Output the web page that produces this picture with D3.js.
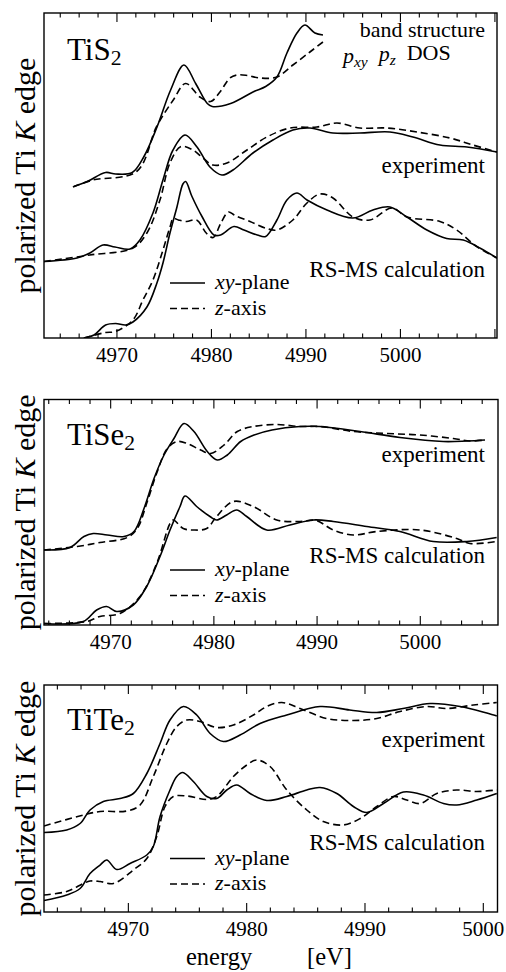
<!DOCTYPE html>
<html><head><meta charset="utf-8">
<script src="https://cdn.jsdelivr.net/npm/d3@7"></script>
<style>
body{margin:0;background:#fff;}
svg{display:block;}
</style>
</head><body>
<svg id="chart" width="506" height="972"></svg>
<script>
// ---------- DATA (energy in eV, intensity in arbitrary units, curves offset) ----------
const tickValues = [4970, 4980, 4990, 5000];
const tickLabels = ["4970", "4980", "4990", "5000"];
const compounds = ["TiS", "TiSe", "TiTe"];
const curveLabels = ["band structure", "experiment", "RS-MS calculation"];
const legendLabels = ["xy-plane", "z-axis"];

// TiS2
const tis2BandXY = [[4965.45,3.03],[4966.86,3.13],[4968.8,3.31],[4969.86,3.28],[4971.62,3.31],[4972.86,3.63],[4974.26,4.23],[4975.68,4.96],[4977.09,5.46],[4978.33,5.09],[4979.56,4.69],[4980.08,4.63],[4982.03,4.69],[4984.5,4.93],[4985.74,5.03],[4986.93,5.22],[4987.99,5.70],[4989.05,6.10],[4989.89,6.26],[4990.95,6.10],[4991.8,6.06]];
const tis2BandZ = [[4965.34,3.02],[4967.46,3.16],[4972.08,3.33],[4974.2,4.23],[4975.96,4.76],[4977.27,5.09],[4978.78,4.82],[4979.92,4.73],[4980.9,4.92],[4981.96,5.2],[4982.7,5.26],[4983.79,5.25],[4985.13,5.2],[4986.93,5.22],[4988.62,5.46],[4990.42,5.72],[4991.8,5.92]];
const tis2ExpXY = [[4962.28,1.53],[4965.77,1.6],[4967.14,1.7],[4968.52,1.86],[4969.79,1.82],[4971.38,1.78],[4972.43,1.96],[4973.81,2.5],[4974.87,3.16],[4975.93,3.76],[4977.2,4.06],[4978.47,3.82],[4979.84,3.42],[4981.11,3.26],[4982.28,3.36],[4984.39,3.7],[4986.51,3.96],[4988.62,4.16],[4990.42,4.2],[4992.86,4.1],[4995.71,4.1],[4998.89,4.12],[5001.32,4.02],[5004.18,3.86],[5007.04,3.82],[5010.21,3.72]];
const tis2ExpZ = [[4962.28,1.53],[4967.14,1.66],[4971.69,1.8],[4973.17,2.1],[4974.55,2.76],[4975.61,3.5],[4976.77,3.83],[4978.04,3.76],[4979.1,3.6],[4980.16,3.46],[4981.64,3.5],[4983.76,3.76],[4985.87,4.02],[4988.31,4.2],[4991.16,4.22],[4993.28,4.3],[4995.71,4.2],[4998.57,4.2],[5001.75,4.12],[5005.24,4.0],[5007.67,3.86],[5010.21,3.72]];
const tis2CalcXY = [[4966.5,0],[4967.57,0.06],[4968.8,0.26],[4969.86,0.29],[4970.92,0.26],[4971.69,0.32],[4973.17,0.62],[4974.23,1.1],[4974.87,1.5],[4975.61,2.1],[4976.35,2.62],[4976.98,3.08],[4977.27,3.13],[4977.94,2.83],[4979.0,2.43],[4980.26,2.06],[4980.97,2.06],[4982.38,2.23],[4983.44,2.16],[4984.85,2.06],[4985.74,2.03],[4986.93,2.36],[4987.99,2.76],[4989.05,2.9],[4990.11,2.76],[4992.22,2.56],[4994.97,2.4],[4997.09,2.56],[4998.89,2.62],[5000.69,2.42],[5002.8,2.16],[5004.89,1.99],[5006.65,1.96],[5008.5,1.79],[5010.21,1.6]];
const tis2CalcZ = [[4966.5,0],[4968.8,0.11],[4969.86,0.13],[4971.69,0.36],[4972.75,0.76],[4973.81,1.16],[4974.87,1.76],[4975.61,2.22],[4975.96,2.39],[4976.5,2.36],[4977.37,2.33],[4978.43,2.36],[4979.49,2.09],[4980.19,2.01],[4981.0,2.3],[4981.8,2.52],[4982.5,2.45],[4984.08,2.33],[4985.84,2.19],[4986.9,2.16],[4988.62,2.36],[4990.11,2.7],[4991.48,2.88],[4992.86,2.8],[4994.97,2.42],[4996.77,2.36],[4999.1,2.6],[5000.69,2.42],[5004.18,2.33],[5005.95,2.16],[5008.06,1.83],[5010.21,1.6]];

// TiSe2
const tise2ExpXY = [[4963.54,1.5],[4966.06,1.55],[4967.41,1.77],[4968.31,1.83],[4969.67,1.8],[4971.29,1.77],[4972.26,1.87],[4973.23,2.33],[4974.2,2.93],[4975.17,3.4],[4976.13,3.73],[4977.1,4.03],[4978.07,3.87],[4979.36,3.47],[4980.33,3.3],[4981.3,3.4],[4982.6,3.67],[4983.89,3.8],[4985.63,3.9],[4988.34,3.97],[4990.28,3.97],[4994.16,3.87],[4998.03,3.75],[5002.23,3.67],[5004.5,3.68],[5006.27,3.7]];
const tise2ExpZ = [[4963.54,1.5],[4966.76,1.57],[4968.96,1.65],[4971.61,1.75],[4972.58,1.93],[4973.55,2.47],[4974.52,3.07],[4975.48,3.53],[4976.45,3.67],[4977.42,3.63],[4978.72,3.5],[4979.69,3.43],[4980.98,3.6],[4982.27,3.87],[4983.82,3.97],[4986.09,4.01],[4988.34,3.97],[4990.28,3.97],[4993.51,3.87],[4996.74,3.83],[4999.97,3.8],[5003.2,3.73],[5004.82,3.68],[5006.27,3.7]];
const tise2CalcXY = [[4963.54,0.03],[4967.34,0.07],[4968.64,0.3],[4969.61,0.37],[4970.58,0.27],[4972.19,0.4],[4973.49,0.77],[4974.78,1.37],[4975.75,1.9],[4976.72,2.37],[4977.2,2.58],[4978.33,2.37],[4979.62,2.17],[4980.27,2.1],[4981.24,2.2],[4982.21,2.3],[4983.18,2.17],[4985.12,1.9],[4987.37,2.0],[4989.63,2.1],[4991.57,2.07],[4994.81,1.97],[4998.03,1.87],[5001.26,1.67],[5004.5,1.67],[5007.4,1.75]];
const tise2CalcZ = [[4963.54,0.03],[4967.67,0.07],[4968.96,0.17],[4970.9,0.23],[4972.84,0.57],[4974.46,1.23],[4975.75,2.03],[4976.07,2.1],[4977.03,1.93],[4978.0,1.9],[4979.3,1.93],[4980.27,2.17],[4981.88,2.47],[4983.82,2.37],[4986.09,2.1],[4988.34,2.07],[4989.9,2.09],[4991.57,1.9],[4993.51,1.8],[4995.77,1.87],[4999.97,1.9],[5003.53,1.73],[5004.82,1.63],[5007.4,1.67]];

// TiTe2
const tite2ExpXY = [[4962.87,1.59],[4964.79,1.64],[4965.92,1.77],[4966.76,2.04],[4967.89,2.21],[4969.3,2.27],[4970.42,2.37],[4971.56,2.77],[4972.68,3.37],[4973.52,3.84],[4974.65,4.11],[4975.78,3.94],[4976.91,3.57],[4978.03,3.41],[4979.44,3.54],[4981.13,3.77],[4983.39,3.94],[4986.2,4.11],[4988.71,4.04],[4991.0,3.99],[4993.22,4.07],[4995.5,4.17],[4998.04,4.11],[5001.14,3.92]];
const tite2ExpZ = [[4962.87,1.72],[4966.2,1.94],[4967.61,2.01],[4969.86,2.02],[4970.99,2.14],[4972.11,2.71],[4973.25,3.37],[4974.09,3.71],[4974.94,3.84],[4976.06,3.81],[4977.47,3.69],[4978.88,3.74],[4980.57,3.94],[4981.7,4.11],[4982.97,4.19],[4984.51,4.07],[4986.77,3.87],[4989.02,3.83],[4991.0,3.87],[4992.97,4.01],[4995.22,4.11],[4996.92,4.07],[4999.16,4.14],[5001.14,4.19]];
const tite2CalcXY = [[4962.87,0.23],[4964.79,0.34],[4965.92,0.47],[4966.76,0.77],[4967.61,0.94],[4968.17,1.04],[4969.02,0.85],[4970.14,0.97],[4971.56,1.14],[4972.11,1.31],[4972.68,1.91],[4973.52,2.44],[4974.09,2.71],[4974.6,2.79],[4975.49,2.61],[4976.63,2.31],[4977.47,2.27],[4978.32,2.44],[4979.16,2.54],[4980.29,2.37],[4981.7,2.23],[4983.39,2.31],[4985.08,2.44],[4986.2,2.49],[4987.62,2.37],[4989.02,2.11],[4990.15,1.99],[4991.56,2.17],[4993.25,2.4],[4994.94,2.34],[4996.63,2.17],[4997.76,2.14],[4999.45,2.24],[5001.14,2.37]];
const tite2CalcZ = [[4962.87,0.34],[4964.79,0.41],[4966.2,0.57],[4966.76,0.62],[4967.61,0.61],[4968.73,0.57],[4970.42,0.84],[4971.56,1.07],[4972.4,1.51],[4973.1,2.11],[4973.8,2.31],[4974.94,2.32],[4976.63,2.25],[4977.47,2.31],[4978.88,2.71],[4980.01,2.94],[4980.85,3.04],[4981.98,2.91],[4983.39,2.44],[4985.08,2.04],[4986.48,1.81],[4988.17,1.74],[4989.59,1.87],[4991.0,2.11],[4992.4,2.31],[4993.53,2.24],[4994.66,2.17],[4996.07,2.37],[4997.76,2.44],[4999.45,2.41],[5001.14,2.44]];

// ---------- FONT PICK (first installed serif face) ----------
function pickFont(cands) {
  const c = document.createElement("canvas").getContext("2d");
  const probe = "polarized Ti K edge 4970 mmmwwwiiil";
  for (const f of cands) {
    for (const base of ["monospace", "sans-serif"]) {
      c.font = `40px ${base}`;
      const w0 = c.measureText(probe).width;
      c.font = `40px "${f}", ${base}`;
      const w1 = c.measureText(probe).width;
      if (Math.abs(w1 - w0) > 0.5) return `"${f}"`;
    }
  }
  return "serif";
}
const FONT = pickFont(["Liberation Serif", "DejaVu Serif", "Times New Roman", "Tinos", "Times", "Noto Serif", "FreeSerif", "Nimbus Roman", "Georgia"]) + ", serif";

// ---------- LAYOUT ----------
const svg = d3.select("#chart");

const panels = [
  {name: compounds[0], top: 13, bottom: 338, left: 44, right: 497, xDomain: [4962.28, 5010.22], yMax: 6.5,
   series: [[tis2BandXY, false], [tis2BandZ, true], [tis2ExpXY, false], [tis2ExpZ, true], [tis2CalcXY, false], [tis2CalcZ, true]],
   titleY: 47, titleW: 57, band: true, expY: 160, calcY: 264, legY: 270},
  {name: compounds[1], top: 399.5, bottom: 625, left: 44, right: 498, xDomain: [4963.54, 5007.53], yMax: 4.51,
   series: [[tise2ExpXY, false], [tise2ExpZ, true], [tise2CalcXY, false], [tise2CalcZ, true]],
   titleY: 45.5, titleW: 68, band: false, expY: 62, calcY: 163.5, legY: 170.5},
  {name: compounds[2], top: 685, bottom: 912, left: 44, right: 497.5, xDomain: [4962.87, 5001.2], yMax: 4.54,
   series: [[tite2ExpXY, false], [tite2ExpZ, true], [tite2CalcXY, false], [tite2CalcZ, true]],
   titleY: 45, titleW: 72, band: false, expY: 62, calcY: 165, legY: 173.5}
];

function txt(parent) {
  return parent.append("text").attr("font-family", FONT).attr("fill", "#000");
}
function fit(sel, w, maxFs) {
  const cur = sel.node().getComputedTextLength();
  const fs = parseFloat(sel.attr("font-size"));
  let nf = fs * w / cur;
  if (maxFs) nf = Math.min(nf, maxFs);
  sel.attr("font-size", nf);
  return sel;
}

panels.forEach((p, i) => {
  const g = svg.append("g");
  const x = d3.scaleLinear().domain(p.xDomain).range([p.left, p.right]);
  const y = d3.scaleLinear().domain([0, p.yMax]).range([p.bottom, p.top]);
  const clipId = "clip" + i;
  g.append("clipPath").attr("id", clipId).append("rect")
    .attr("x", p.left).attr("y", p.top).attr("width", p.right - p.left).attr("height", p.bottom - p.top);

  const line = d3.line().x(d => x(d[0])).y(d => y(d[1])).curve(d3.curveCatmullRom.alpha(0.5));
  p.series.forEach(([data, dashed]) => {
    g.append("path").datum(data).attr("d", line)
      .attr("clip-path", `url(#${clipId})`)
      .attr("fill", "none").attr("stroke", "#000").attr("stroke-width", 1.6)
      .attr("stroke-linejoin", "round")
      .attr("stroke-dasharray", dashed ? "7,4" : null);
  });

  g.append("rect").attr("x", p.left).attr("y", p.top).attr("width", p.right - p.left).attr("height", p.bottom - p.top)
    .attr("fill", "none").attr("stroke", "#000").attr("stroke-width", 1.4);

  const minor = d3.range(Math.ceil(p.xDomain[0] / 2) * 2, p.xDomain[1], 2);
  minor.forEach(e => {
    const len = (e % 10 === 0) ? 9 : 4.5;
    g.append("line").attr("x1", x(e)).attr("x2", x(e)).attr("y1", p.top).attr("y2", p.top + len)
      .attr("stroke", "#000").attr("stroke-width", 1.1);
    g.append("line").attr("x1", x(e)).attr("x2", x(e)).attr("y1", p.bottom).attr("y2", p.bottom - len)
      .attr("stroke", "#000").attr("stroke-width", 1.1);
  });
  tickValues.forEach((v, k) => {
    const t = txt(g).attr("x", x(v)).attr("y", p.bottom + 24).attr("text-anchor", "middle")
      .attr("font-size", 20).text(tickLabels[k]);
    fit(t, 45, 21);
  });

  const yl = txt(g).attr("transform", `translate(35,${(p.top + p.bottom) / 2}) rotate(-90)`)
    .attr("text-anchor", "middle").attr("font-size", 26);
  yl.append("tspan").text("polarized Ti ");
  yl.append("tspan").attr("font-style", "italic").text("K");
  yl.append("tspan").text(" edge");
  fit(yl, 246, 30);

  const tt = txt(g).attr("x", 67).attr("y", p.top + p.titleY).attr("font-size", 28);
  tt.append("tspan").text(p.name);
  tt.append("tspan").attr("font-size", "0.7em").attr("dy", "0.25em").text("2");
  fit(tt, p.titleW, 31);

  if (p.band) {
    const b1 = txt(g).attr("x", 485).attr("y", p.top + 24).attr("text-anchor", "end")
      .attr("font-size", 20).text(curveLabels[0]);
    fit(b1, 142, 22);
    const b2 = txt(g).attr("x", 343).attr("y", p.top + 50).attr("font-size", 20);
    b2.append("tspan").attr("font-style", "italic").text("p");
    b2.append("tspan").attr("font-style", "italic").attr("font-size", "0.7em").attr("dy", "0.25em").text("xy");
    b2.append("tspan").attr("dy", "-0.25em").text("\u2002");
    b2.append("tspan").attr("font-style", "italic").text("p");
    b2.append("tspan").attr("font-style", "italic").attr("font-size", "0.7em").attr("dy", "0.25em").text("z");
    b2.append("tspan").attr("dy", "-0.25em").text("\u2002DOS");
    fit(b2, 120, 22);
  }
  const ex = txt(g).attr("x", 485).attr("y", p.top + p.expY).attr("text-anchor", "end")
    .attr("font-size", 20).text(curveLabels[1]);
  fit(ex, 108, 23);
  const rs = txt(g).attr("x", 485).attr("y", p.top + p.calcY).attr("text-anchor", "end")
    .attr("font-size", 20).text(curveLabels[2]);
  fit(rs, 180, 23);

  const ly1 = p.top + p.legY, ly2 = ly1 + 25.5;
  g.append("line").attr("x1", 170).attr("x2", 205).attr("y1", ly1).attr("y2", ly1)
    .attr("stroke", "#000").attr("stroke-width", 1.6);
  g.append("line").attr("x1", 170).attr("x2", 205).attr("y1", ly2).attr("y2", ly2)
    .attr("stroke", "#000").attr("stroke-width", 1.6).attr("stroke-dasharray", "7,4");
  const l1 = txt(g).attr("x", 215).attr("y", ly1 + 6).attr("font-size", 19);
  l1.append("tspan").attr("font-style", "italic").text("xy");
  l1.append("tspan").text("-plane");
  fit(l1, 81, 22);
  const l2 = txt(g).attr("x", 215).attr("y", ly2 + 6).attr("font-size", 19);
  l2.append("tspan").attr("font-style", "italic").text("z");
  l2.append("tspan").text("-axis");
  fit(l2, 56, 22);
});

txt(svg).attr("x", 186).attr("y", 965).attr("font-size", 24.5).text("energy");
txt(svg).attr("x", 307).attr("y", 965).attr("font-size", 24.5).text("[eV]");
</script>
</body></html>
